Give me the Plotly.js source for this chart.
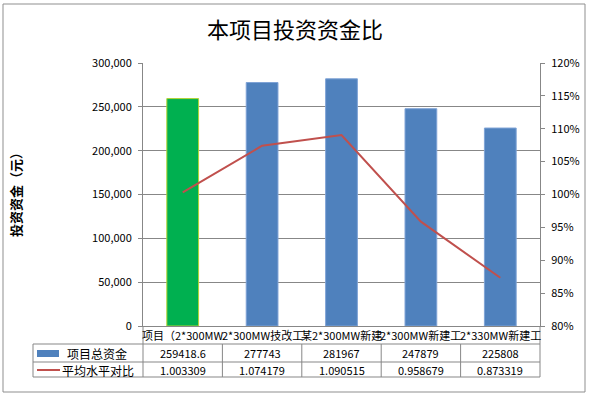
<!DOCTYPE html>
<html>
<head>
<meta charset="utf-8">
<script src="https://cdn.plot.ly/plotly-3.0.1.min.js"></script>
<style>html,body{margin:0;padding:0;background:#fff;}#chart{width:590px;height:398px;}</style>
</head>
<body>
<div id="chart"></div>
<script>
// ---- data ----
const categories = ["项目（2*300MW", "2*300MW技改工", "某2*300MW新建", "2*300MW新建工", "2*330MW新建工"];
const totalFunds = [259418.6, 277743, 281967, 247879, 225808];
const ratioToAvg = [1.003309, 1.074179, 1.090515, 0.958679, 0.873319];
const seriesNames = ["项目总资金", "平均水平对比"];
const chartTitle = "本项目投资资金比";
const yTitle = "投资资金（元）";

// ---- geometry helpers (pixel -> paper) ----
const L = 143, R = 540, T = 63, B = 326;
const px = x => (x - L) / (R - L);
const py = y => (B - y) / (B - T);
const FONT = "Noto Sans CJK SC, Noto Sans, sans-serif";
const GRID = "#878787";
const colW = (R - L) / categories.length;

const barColors = totalFunds.map((v, i) => i === 0 ? "#00B050" : "#4F81BD");
const barLines = totalFunds.map((v, i) => i === 0 ? "#B5D334" : "#7FA3D6");

const traces = [
  {
    type: "bar", x: categories, y: totalFunds, name: seriesNames[0],
    marker: {color: barColors, line: {color: barLines, width: 1}},
    showlegend: false, hoverinfo: "skip"
  },
  {
    type: "scatter", mode: "lines", x: categories, y: ratioToAvg, yaxis: "y2",
    name: seriesNames[1], line: {color: "#C0504D", width: 2},
    showlegend: false, hoverinfo: "skip"
  }
];

const shapes = [];
const line = (x0, y0, x1, y1) => shapes.push({type: "line", xref: "paper", yref: "paper",
  x0: px(x0), x1: px(x1), y0: py(y0), y1: py(y1), line: {color: GRID, width: 1}});
// outer border
shapes.push({type: "rect", xref: "paper", yref: "paper", x0: px(3), x1: px(585), y0: py(392), y1: py(4),
  line: {color: "#8F8F8F", width: 1}});
// table
[344, 362, 377].forEach(y => line(33, y, R, y));
line(33, 344, 33, 377);
line(L, 326, L, 377);
line(R, 326, R, 377);
for (let k = 1; k < categories.length; k++) line(L + colW * k, 344, L + colW * k, 377);
// legend keys
shapes.push({type: "rect", xref: "paper", yref: "paper", x0: px(37), x1: px(59), y0: py(357), y1: py(350),
  fillcolor: "#4F81BD", line: {width: 0}});
shapes.push({type: "line", xref: "paper", yref: "paper", x0: px(37), x1: px(60), y0: py(370), y1: py(370),
  line: {color: "#C0504D", width: 2}});

const annotations = [];
categories.forEach((c, i) => {
  annotations.push({xref: "x", yref: "paper", x: c, y: py(335), text: c, showarrow: false,
    font: {family: FONT, size: 11, color: "#000"}, xanchor: "center", yanchor: "middle"});
  annotations.push({xref: "x", yref: "paper", x: c, y: py(353), text: String(totalFunds[i]), showarrow: false,
    font: {family: FONT, size: 11, color: "#000"}, xanchor: "center", yanchor: "middle"});
  annotations.push({xref: "x", yref: "paper", x: c, y: py(370), text: ratioToAvg[i].toFixed(6), showarrow: false,
    font: {family: FONT, size: 11, color: "#000"}, xanchor: "center", yanchor: "middle"});
});
annotations.push({xref: "paper", yref: "paper", x: px(97), y: py(353), text: seriesNames[0], showarrow: false,
  font: {family: FONT, size: 12, color: "#000"}, xanchor: "center", yanchor: "middle"});
annotations.push({xref: "paper", yref: "paper", x: px(98), y: py(370), text: seriesNames[1], showarrow: false,
  font: {family: FONT, size: 12, color: "#000"}, xanchor: "center", yanchor: "middle"});
annotations.push({xref: "paper", yref: "paper", x: px(15), y: py(192), text: "<b>" + yTitle + "</b>", textangle: -90,
  showarrow: false, font: {family: FONT, size: 13, color: "#000"}, xanchor: "center", yanchor: "middle"});

const layout = {
  width: 590, height: 398,
  margin: {l: L, r: 590 - R, t: T, b: 398 - B, pad: 0},
  paper_bgcolor: "#fff", plot_bgcolor: "#fff",
  title: {text: chartTitle, x: 0.5, xref: "container", xanchor: "center", y: 1 - 30 / 398, yanchor: "middle",
    font: {family: FONT, size: 22, color: "#000"}},
  bargap: 0.6,
  xaxis: {type: "category", range: [-0.5, categories.length - 0.5], showticklabels: false, ticks: "",
    showline: true, linecolor: GRID, linewidth: 1, showgrid: false, zeroline: false, fixedrange: true},
  yaxis: {range: [0, 300000], dtick: 50000, tick0: 0, tickformat: ",d", showgrid: true, gridcolor: GRID, gridwidth: 1,
    showline: true, linecolor: GRID, ticks: "outside", ticklen: 4, tickcolor: GRID, zeroline: false,
    tickfont: {family: FONT, size: 11, color: "#000"}, ticklabelstandoff: 4},
  yaxis2: {overlaying: "y", side: "right", range: [0.8, 1.2], dtick: 0.05, tick0: 0.8, tickformat: ".0%",
    showgrid: false, showline: true, linecolor: GRID, ticks: "outside", ticklen: 4, tickcolor: GRID, zeroline: false,
    tickfont: {family: FONT, size: 11, color: "#000"}, ticklabelstandoff: 4},
  shapes: shapes,
  annotations: annotations,
  hovermode: false
};

Plotly.newPlot("chart", traces, layout, {displayModeBar: false, staticPlot: true});
</script>
</body>
</html>
